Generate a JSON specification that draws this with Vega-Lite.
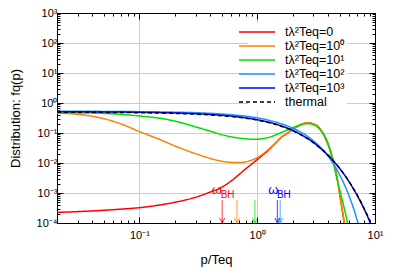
{
  "$schema": "https://vega.github.io/schema/vega-lite/v6.json",
  "width": 318,
  "height": 210,
  "autosize": {"type": "none"},
  "padding": {"left": 57, "top": 13, "right": 24, "bottom": 56},
  "config": {
    "font": "Liberation Sans",
    "view": {"stroke": "black", "strokeWidth": 1},
    "axis": {
      "domainColor": "black", "tickColor": "black", "labelColor": "black", "titleColor": "black",
      "gridColor": "#cccccc", "labelFont": "Liberation Sans", "titleFont": "Liberation Sans",
      "labelFontSize": 11, "titleFontSize": 13, "titleFontWeight": "normal"
    },
    "legend": {
      "orient": "none", "legendX": 191, "legendY": 10, "title": null,
      "symbolType": "M-3,0H3", "symbolSize": 144, "symbolStrokeWidth": 1.5,
      "labelFont": "Liberation Sans", "labelFontSize": 12.5, "labelColor": "black",
      "labelOffset": 21, "rowPadding": 0, "padding": 2, "fillColor": "white"
    }
  },
  "datasets": {
    "curves": [
      {"series": "tλ²Teq=0", "p": 0.02, "f": 0.000225},
      {"series": "tλ²Teq=0", "p": 0.03, "f": 0.00024},
      {"series": "tλ²Teq=0", "p": 0.05, "f": 0.000265},
      {"series": "tλ²Teq=0", "p": 0.07, "f": 0.00029},
      {"series": "tλ²Teq=0", "p": 0.1, "f": 0.000324},
      {"series": "tλ²Teq=0", "p": 0.15, "f": 0.0004},
      {"series": "tλ²Teq=0", "p": 0.2, "f": 0.00049},
      {"series": "tλ²Teq=0", "p": 0.3, "f": 0.00072},
      {"series": "tλ²Teq=0", "p": 0.4, "f": 0.00108},
      {"series": "tλ²Teq=0", "p": 0.5, "f": 0.00155},
      {"series": "tλ²Teq=0", "p": 0.6, "f": 0.0025},
      {"series": "tλ²Teq=0", "p": 0.7, "f": 0.0041},
      {"series": "tλ²Teq=0", "p": 0.8, "f": 0.0064},
      {"series": "tλ²Teq=0", "p": 0.9, "f": 0.0093},
      {"series": "tλ²Teq=0", "p": 1.0, "f": 0.013},
      {"series": "tλ²Teq=0", "p": 1.2, "f": 0.0235},
      {"series": "tλ²Teq=0", "p": 1.4, "f": 0.042},
      {"series": "tλ²Teq=0", "p": 1.6, "f": 0.071},
      {"series": "tλ²Teq=0", "p": 1.8, "f": 0.098},
      {"series": "tλ²Teq=0", "p": 2.0, "f": 0.13},
      {"series": "tλ²Teq=0", "p": 2.3, "f": 0.18},
      {"series": "tλ²Teq=0", "p": 2.65, "f": 0.22},
      {"series": "tλ²Teq=0", "p": 3.0, "f": 0.2},
      {"series": "tλ²Teq=0", "p": 3.3, "f": 0.16},
      {"series": "tλ²Teq=0", "p": 3.6, "f": 0.1},
      {"series": "tλ²Teq=0", "p": 3.9, "f": 0.052},
      {"series": "tλ²Teq=0", "p": 4.2, "f": 0.024},
      {"series": "tλ²Teq=0", "p": 4.5, "f": 0.009},
      {"series": "tλ²Teq=0", "p": 4.8, "f": 0.0028},
      {"series": "tλ²Teq=0", "p": 5.1, "f": 0.0006},
      {"series": "tλ²Teq=0", "p": 5.4, "f": 0.00015},
      {"series": "tλ²Teq=0", "p": 5.6, "f": 0.00005},

      {"series": "tλ²Teq=10⁰", "p": 0.02, "f": 0.46},
      {"series": "tλ²Teq=10⁰", "p": 0.03, "f": 0.42},
      {"series": "tλ²Teq=10⁰", "p": 0.04, "f": 0.36},
      {"series": "tλ²Teq=10⁰", "p": 0.05, "f": 0.3},
      {"series": "tλ²Teq=10⁰", "p": 0.07, "f": 0.2},
      {"series": "tλ²Teq=10⁰", "p": 0.1, "f": 0.112},
      {"series": "tλ²Teq=10⁰", "p": 0.15, "f": 0.06},
      {"series": "tλ²Teq=10⁰", "p": 0.2, "f": 0.037},
      {"series": "tλ²Teq=10⁰", "p": 0.3, "f": 0.0205},
      {"series": "tλ²Teq=10⁰", "p": 0.4, "f": 0.0142},
      {"series": "tλ²Teq=10⁰", "p": 0.5, "f": 0.0115},
      {"series": "tλ²Teq=10⁰", "p": 0.6, "f": 0.0105},
      {"series": "tλ²Teq=10⁰", "p": 0.7, "f": 0.0103},
      {"series": "tλ²Teq=10⁰", "p": 0.8, "f": 0.0109},
      {"series": "tλ²Teq=10⁰", "p": 0.9, "f": 0.0125},
      {"series": "tλ²Teq=10⁰", "p": 1.0, "f": 0.015},
      {"series": "tλ²Teq=10⁰", "p": 1.2, "f": 0.025},
      {"series": "tλ²Teq=10⁰", "p": 1.4, "f": 0.043},
      {"series": "tλ²Teq=10⁰", "p": 1.6, "f": 0.072},
      {"series": "tλ²Teq=10⁰", "p": 1.8, "f": 0.099},
      {"series": "tλ²Teq=10⁰", "p": 2.0, "f": 0.13},
      {"series": "tλ²Teq=10⁰", "p": 2.3, "f": 0.18},
      {"series": "tλ²Teq=10⁰", "p": 2.65, "f": 0.22},
      {"series": "tλ²Teq=10⁰", "p": 3.0, "f": 0.2},
      {"series": "tλ²Teq=10⁰", "p": 3.3, "f": 0.16},
      {"series": "tλ²Teq=10⁰", "p": 3.6, "f": 0.1},
      {"series": "tλ²Teq=10⁰", "p": 3.9, "f": 0.052},
      {"series": "tλ²Teq=10⁰", "p": 4.2, "f": 0.024},
      {"series": "tλ²Teq=10⁰", "p": 4.5, "f": 0.009},
      {"series": "tλ²Teq=10⁰", "p": 4.8, "f": 0.0028},
      {"series": "tλ²Teq=10⁰", "p": 5.1, "f": 0.0006},
      {"series": "tλ²Teq=10⁰", "p": 5.4, "f": 0.00015},
      {"series": "tλ²Teq=10⁰", "p": 5.6, "f": 0.00005},

      {"series": "tλ²Teq=10¹", "p": 0.02, "f": 0.475},
      {"series": "tλ²Teq=10¹", "p": 0.05, "f": 0.45},
      {"series": "tλ²Teq=10¹", "p": 0.1, "f": 0.37},
      {"series": "tλ²Teq=10¹", "p": 0.15, "f": 0.31},
      {"series": "tλ²Teq=10¹", "p": 0.2, "f": 0.25},
      {"series": "tλ²Teq=10¹", "p": 0.3, "f": 0.16},
      {"series": "tλ²Teq=10¹", "p": 0.4, "f": 0.115},
      {"series": "tλ²Teq=10¹", "p": 0.5, "f": 0.088},
      {"series": "tλ²Teq=10¹", "p": 0.6, "f": 0.075},
      {"series": "tλ²Teq=10¹", "p": 0.7, "f": 0.068},
      {"series": "tλ²Teq=10¹", "p": 0.8, "f": 0.064},
      {"series": "tλ²Teq=10¹", "p": 0.9, "f": 0.062},
      {"series": "tλ²Teq=10¹", "p": 1.0, "f": 0.062},
      {"series": "tλ²Teq=10¹", "p": 1.2, "f": 0.068},
      {"series": "tλ²Teq=10¹", "p": 1.4, "f": 0.083},
      {"series": "tλ²Teq=10¹", "p": 1.6, "f": 0.104},
      {"series": "tλ²Teq=10¹", "p": 1.8, "f": 0.126},
      {"series": "tλ²Teq=10¹", "p": 2.0, "f": 0.15},
      {"series": "tλ²Teq=10¹", "p": 2.2, "f": 0.175},
      {"series": "tλ²Teq=10¹", "p": 2.45, "f": 0.2},
      {"series": "tλ²Teq=10¹", "p": 2.7, "f": 0.205},
      {"series": "tλ²Teq=10¹", "p": 3.0, "f": 0.19},
      {"series": "tλ²Teq=10¹", "p": 3.3, "f": 0.15},
      {"series": "tλ²Teq=10¹", "p": 3.6, "f": 0.1},
      {"series": "tλ²Teq=10¹", "p": 3.9, "f": 0.058},
      {"series": "tλ²Teq=10¹", "p": 4.2, "f": 0.023},
      {"series": "tλ²Teq=10¹", "p": 4.5, "f": 0.0078},
      {"series": "tλ²Teq=10¹", "p": 4.8, "f": 0.0025},
      {"series": "tλ²Teq=10¹", "p": 5.05, "f": 0.00115},
      {"series": "tλ²Teq=10¹", "p": 5.4, "f": 0.0004},
      {"series": "tλ²Teq=10¹", "p": 5.7, "f": 0.00016},
      {"series": "tλ²Teq=10¹", "p": 6.0, "f": 0.00006},

      {"series": "tλ²Teq=10²", "p": 0.02, "f": 0.53},
      {"series": "tλ²Teq=10²", "p": 0.05, "f": 0.525},
      {"series": "tλ²Teq=10²", "p": 0.1, "f": 0.515},
      {"series": "tλ²Teq=10²", "p": 0.2, "f": 0.495},
      {"series": "tλ²Teq=10²", "p": 0.3, "f": 0.475},
      {"series": "tλ²Teq=10²", "p": 0.5, "f": 0.43},
      {"series": "tλ²Teq=10²", "p": 0.7, "f": 0.385},
      {"series": "tλ²Teq=10²", "p": 1.0, "f": 0.32},
      {"series": "tλ²Teq=10²", "p": 1.5, "f": 0.22},
      {"series": "tλ²Teq=10²", "p": 2.0, "f": 0.145},
      {"series": "tλ²Teq=10²", "p": 2.5, "f": 0.092},
      {"series": "tλ²Teq=10²", "p": 3.0, "f": 0.055},
      {"series": "tλ²Teq=10²", "p": 3.5, "f": 0.031},
      {"series": "tλ²Teq=10²", "p": 4.0, "f": 0.0168},
      {"series": "tλ²Teq=10²", "p": 4.5, "f": 0.0085},
      {"series": "tλ²Teq=10²", "p": 5.0, "f": 0.0041},
      {"series": "tλ²Teq=10²", "p": 5.5, "f": 0.0019},
      {"series": "tλ²Teq=10²", "p": 6.0, "f": 0.00083},
      {"series": "tλ²Teq=10²", "p": 6.5, "f": 0.00035},
      {"series": "tλ²Teq=10²", "p": 7.0, "f": 0.00014},
      {"series": "tλ²Teq=10²", "p": 7.5, "f": 0.000052},

      {"series": "tλ²Teq=10³", "p": 0.02, "f": 0.51},
      {"series": "tλ²Teq=10³", "p": 0.05, "f": 0.503},
      {"series": "tλ²Teq=10³", "p": 0.1, "f": 0.49},
      {"series": "tλ²Teq=10³", "p": 0.2, "f": 0.465},
      {"series": "tλ²Teq=10³", "p": 0.3, "f": 0.44},
      {"series": "tλ²Teq=10³", "p": 0.5, "f": 0.39},
      {"series": "tλ²Teq=10³", "p": 0.7, "f": 0.342},
      {"series": "tλ²Teq=10³", "p": 1.0, "f": 0.277},
      {"series": "tλ²Teq=10³", "p": 1.5, "f": 0.188},
      {"series": "tλ²Teq=10³", "p": 2.0, "f": 0.122},
      {"series": "tλ²Teq=10³", "p": 2.5, "f": 0.0775},
      {"series": "tλ²Teq=10³", "p": 3.0, "f": 0.0482},
      {"series": "tλ²Teq=10³", "p": 3.5, "f": 0.0296},
      {"series": "tλ²Teq=10³", "p": 4.0, "f": 0.0181},
      {"series": "tλ²Teq=10³", "p": 4.5, "f": 0.011},
      {"series": "tλ²Teq=10³", "p": 5.0, "f": 0.00665},
      {"series": "tλ²Teq=10³", "p": 5.5, "f": 0.00403},
      {"series": "tλ²Teq=10³", "p": 6.0, "f": 0.00243},
      {"series": "tλ²Teq=10³", "p": 6.5, "f": 0.00146},
      {"series": "tλ²Teq=10³", "p": 7.0, "f": 0.00088},
      {"series": "tλ²Teq=10³", "p": 7.5, "f": 0.00053},
      {"series": "tλ²Teq=10³", "p": 8.0, "f": 0.00032},
      {"series": "tλ²Teq=10³", "p": 8.5, "f": 0.000192},
      {"series": "tλ²Teq=10³", "p": 9.0, "f": 0.000115},
      {"series": "tλ²Teq=10³", "p": 9.5, "f": 0.000069},

      {"series": "thermal", "p": 0.02, "f": 0.495},
      {"series": "thermal", "p": 0.03, "f": 0.4925},
      {"series": "thermal", "p": 0.05, "f": 0.4875},
      {"series": "thermal", "p": 0.07, "f": 0.4825},
      {"series": "thermal", "p": 0.1, "f": 0.475},
      {"series": "thermal", "p": 0.15, "f": 0.4626},
      {"series": "thermal", "p": 0.2, "f": 0.4502},
      {"series": "thermal", "p": 0.3, "f": 0.4256},
      {"series": "thermal", "p": 0.4, "f": 0.4013},
      {"series": "thermal", "p": 0.5, "f": 0.3775},
      {"series": "thermal", "p": 0.6, "f": 0.3543},
      {"series": "thermal", "p": 0.7, "f": 0.3318},
      {"series": "thermal", "p": 0.8, "f": 0.31},
      {"series": "thermal", "p": 1.0, "f": 0.2689},
      {"series": "thermal", "p": 1.2, "f": 0.2315},
      {"series": "thermal", "p": 1.5, "f": 0.1824},
      {"series": "thermal", "p": 2.0, "f": 0.1192},
      {"series": "thermal", "p": 2.5, "f": 0.0759},
      {"series": "thermal", "p": 3.0, "f": 0.0474},
      {"series": "thermal", "p": 3.5, "f": 0.0293},
      {"series": "thermal", "p": 4.0, "f": 0.018},
      {"series": "thermal", "p": 4.5, "f": 0.011},
      {"series": "thermal", "p": 5.0, "f": 0.00669},
      {"series": "thermal", "p": 5.5, "f": 0.00407},
      {"series": "thermal", "p": 6.0, "f": 0.00247},
      {"series": "thermal", "p": 6.5, "f": 0.0015},
      {"series": "thermal", "p": 7.0, "f": 0.000911},
      {"series": "thermal", "p": 7.5, "f": 0.000553},
      {"series": "thermal", "p": 8.0, "f": 0.000335},
      {"series": "thermal", "p": 8.5, "f": 0.000203},
      {"series": "thermal", "p": 9.0, "f": 0.000123},
      {"series": "thermal", "p": 9.5, "f": 0.0000749},
      {"series": "thermal", "p": 10.0, "f": 0.0000454}
    ],
    "arrows": [
      {"series": "tλ²Teq=0", "p": 0.505, "top": 0.00058, "base": 0.0001},
      {"series": "tλ²Teq=10⁰", "p": 0.673, "top": 0.00058, "base": 0.0001},
      {"series": "tλ²Teq=10¹", "p": 0.957, "top": 0.00058, "base": 0.0001},
      {"series": "tλ²Teq=10³", "p": 1.486, "top": 0.00058, "base": 0.0001},
      {"series": "tλ²Teq=10²", "p": 1.57, "top": 0.00058, "base": 0.0001}
    ],
    "labels": [
      {"series": "tλ²Teq=0", "pw": 0.455, "fw": 0.0013, "pb": 0.49, "fb": 0.00085},
      {"series": "tλ²Teq=10³", "pw": 1.37, "fw": 0.0013, "pb": 1.47, "fb": 0.00085}
    ]
  },
  "layer": [
    {
      "data": {"name": "curves"},
      "mark": {"type": "line", "clip": true, "strokeWidth": 1.5, "interpolate": "monotone"},
      "encoding": {
        "x": {
          "field": "p", "type": "quantitative",
          "scale": {"type": "log", "domain": [0.02, 10], "nice": false},
          "axis": {
            "title": "p/Teq", "titlePadding": 10,
            "values": [0.02,0.03,0.04,0.05,0.06,0.07,0.08,0.09,0.1,0.2,0.3,0.4,0.5,0.6,0.7,0.8,0.9,1,2,3,4,5,6,7,8,9,10],
            "labelExpr": "datum.value == 0.1 ? '10⁻¹' : datum.value == 1 ? '10⁰' : datum.value == 10 ? '10¹' : ''",
            "labelOverlap": false, "labelFlush": false, "labelPadding": 12,
            "grid": true,
            "gridOpacity": {"condition": {"test": "datum.value == 0.1 || datum.value == 1 || datum.value == 10", "value": 1}, "value": 0},
            "tickSize": {"condition": {"test": "datum.value == 0.1 || datum.value == 1 || datum.value == 10", "value": -6}, "value": -3}
          }
        },
        "y": {
          "field": "f", "type": "quantitative",
          "scale": {"type": "log", "domain": [0.0001, 1000], "nice": false},
          "axis": {
            "title": "Distribution: fq(p)", "titlePadding": 14,
            "values": [0.0001,0.0002,0.0003,0.0004,0.0005,0.0006,0.0007,0.0008,0.0009,0.001,0.002,0.003,0.004,0.005,0.006,0.007,0.008,0.009,0.01,0.02,0.03,0.04,0.05,0.06,0.07,0.08,0.09,0.1,0.2,0.3,0.4,0.5,0.6,0.7,0.8,0.9,1,2,3,4,5,6,7,8,9,10,20,30,40,50,60,70,80,90,100,200,300,400,500,600,700,800,900,1000],
            "labelExpr": "datum.value == 0.0001 ? '10⁻⁴' : datum.value == 0.001 ? '10⁻³' : datum.value == 0.01 ? '10⁻²' : datum.value == 0.1 ? '10⁻¹' : datum.value == 1 ? '10⁰' : datum.value == 10 ? '10¹' : datum.value == 100 ? '10²' : datum.value == 1000 ? '10³' : ''",
            "labelOverlap": false, "labelFlush": false, "labelPadding": 6,
            "grid": true,
            "gridOpacity": {"condition": {"test": "abs(log(datum.value)/LN10 - round(log(datum.value)/LN10)) < 0.000001", "value": 1}, "value": 0},
            "tickSize": {"condition": {"test": "abs(log(datum.value)/LN10 - round(log(datum.value)/LN10)) < 0.000001", "value": -6}, "value": -3}
          }
        },
        "color": {
          "field": "series", "type": "nominal",
          "scale": {
            "domain": ["tλ²Teq=0", "tλ²Teq=10⁰", "tλ²Teq=10¹", "tλ²Teq=10²", "tλ²Teq=10³", "thermal"],
            "range": ["#ff0000", "#ff8000", "#00e000", "#2090ff", "#0000ff", "#000000"]
          },
          "legend": {}
        },
        "strokeDash": {
          "field": "series", "type": "nominal",
          "scale": {
            "domain": ["tλ²Teq=0", "tλ²Teq=10⁰", "tλ²Teq=10¹", "tλ²Teq=10²", "tλ²Teq=10³", "thermal"],
            "range": [[1, 0], [1, 0], [1, 0], [1, 0], [1, 0], [4, 3]]
          },
          "legend": {}
        }
      }
    },
    {
      "data": {"name": "arrows"},
      "mark": {"type": "rule", "strokeWidth": 1.3, "opacity": 0.6},
      "encoding": {
        "x": {
          "field": "p", "type": "quantitative",
          "axis": {
            "orient": "top", "title": null, "labels": false, "grid": false,
            "values": [0.02,0.03,0.04,0.05,0.06,0.07,0.08,0.09,0.1,0.2,0.3,0.4,0.5,0.6,0.7,0.8,0.9,1,2,3,4,5,6,7,8,9,10],
            "tickSize": {"condition": {"test": "datum.value == 0.1 || datum.value == 1 || datum.value == 10", "value": -6}, "value": -3}
          }
        },
        "y": {
          "field": "top", "type": "quantitative",
          "axis": {
            "orient": "right", "title": null, "labels": false, "grid": false,
            "values": [0.0001,0.0002,0.0003,0.0004,0.0005,0.0006,0.0007,0.0008,0.0009,0.001,0.002,0.003,0.004,0.005,0.006,0.007,0.008,0.009,0.01,0.02,0.03,0.04,0.05,0.06,0.07,0.08,0.09,0.1,0.2,0.3,0.4,0.5,0.6,0.7,0.8,0.9,1,2,3,4,5,6,7,8,9,10,20,30,40,50,60,70,80,90,100,200,300,400,500,600,700,800,900,1000],
            "tickSize": {"condition": {"test": "abs(log(datum.value)/LN10 - round(log(datum.value)/LN10)) < 0.000001", "value": -6}, "value": -3}
          }
        },
        "y2": {"field": "base"},
        "color": {"field": "series", "type": "nominal", "legend": null}
      }
    },
    {
      "data": {"name": "arrows"},
      "mark": {"type": "point", "shape": "M-0.5,-1L0,0L0.5,-1", "filled": false, "size": 100, "strokeWidth": 1.3, "opacity": 0.6},
      "encoding": {
        "x": {"field": "p", "type": "quantitative", "axis": null},
        "y": {"field": "base", "type": "quantitative", "axis": null},
        "color": {"field": "series", "type": "nominal", "legend": null}
      }
    },
    {
      "data": {"name": "labels"},
      "mark": {"type": "text", "text": "ω", "fontSize": 13, "baseline": "middle", "align": "center", "font": "Liberation Sans"},
      "encoding": {
        "x": {"field": "pw", "type": "quantitative", "axis": null},
        "y": {"field": "fw", "type": "quantitative", "axis": null},
        "color": {"field": "series", "type": "nominal", "legend": null}
      }
    },
    {
      "data": {"name": "labels"},
      "mark": {"type": "text", "text": "BH", "fontSize": 10, "baseline": "middle", "align": "left", "font": "Liberation Sans"},
      "encoding": {
        "x": {"field": "pb", "type": "quantitative", "axis": null},
        "y": {"field": "fb", "type": "quantitative", "axis": null},
        "color": {"field": "series", "type": "nominal", "legend": null}
      }
    }
  ],
  "resolve": {"axis": {"x": "independent", "y": "independent"}}
}
